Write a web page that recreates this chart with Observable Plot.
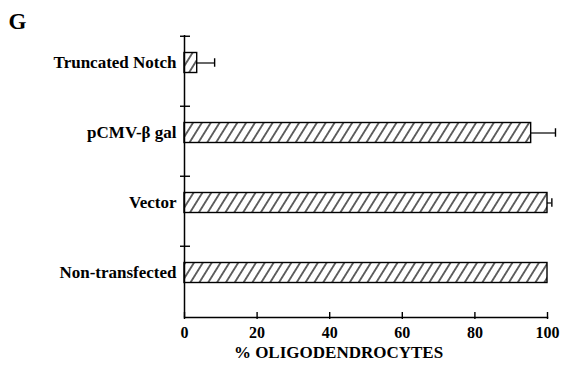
<!DOCTYPE html>
<html>
<head>
<meta charset="utf-8">
<script src="https://cdn.jsdelivr.net/npm/d3@7"></script>
<script src="https://cdn.jsdelivr.net/npm/@observablehq/plot@0.6"></script>
<style>
  html, body { margin: 0; padding: 0; background: white; }
  #chart svg, #chart svg text { font-family: "Liberation Serif", "Times New Roman", Times, serif !important; font-weight: bold; }
</style>
</head>
<body>
<div id="chart"></div>
<script>
const categories = ["Truncated Notch", "pCMV-\u03B2 gal", "Vector", "Non-transfected"];
const values = [3.5, 95.5, 100, 100];
const errors = [4.8, 6.7, 1.2, 0];
const xTicks = [0, 20, 40, 60, 80, 100];
const axisTitle = "% OLIGODENDROCYTES";
const panelLabel = "G";

const data = categories.map((c, i) => ({cat: c, value: values[i], err: errors[i]}));
const withErr = data.filter(d => d.err > 0);

const hatchDefs = () => {
  const defs = d3.create("svg:defs");
  const p = defs.append("pattern")
    .attr("id", "hatch")
    .attr("patternUnits", "userSpaceOnUse")
    .attr("width", 7.5).attr("height", 8)
    .attr("patternTransform", "rotate(32)");
  p.append("rect").attr("width", 7.5).attr("height", 8).attr("fill", "white");
  p.append("line").attr("x1", 3.75).attr("y1", -1).attr("x2", 3.75).attr("y2", 9)
    .attr("stroke", "black").attr("stroke-width", 1.2);
  return defs.node();
};

const chart = Plot.plot({
  width: 561,
  height: 367,
  marginLeft: 184,
  marginRight: 14,
  marginTop: 35,
  marginBottom: 50,
  style: {fontSize: "16px", color: "black", background: "white"},
  x: {domain: [0, 100], ticks: xTicks, tickSize: 0, tickPadding: 9, label: null},
  y: {domain: categories, padding: 0, axis: null},
  marks: [
    hatchDefs,
    Plot.barX(data, {y: "cat", x: "value", fill: "url(#hatch)", stroke: "black", strokeWidth: 1.4, insetTop: 16.5, insetBottom: 33.5}),
    Plot.ruleY(withErr, {y: "cat", x1: "value", x2: d => d.value + d.err, dy: -8.5, stroke: "black", strokeWidth: 1.2}),
    Plot.tickX(withErr, {y: "cat", x: d => d.value + d.err, insetTop: 22.25, insetBottom: 39.25, stroke: "black", strokeWidth: 1.4}),
    Plot.ruleX([0], {stroke: "black", strokeWidth: 1.5}),
    Plot.ruleY(categories, {y: d => d, dy: -35.25, insetLeft: -4, insetRight: 357, stroke: "black", strokeWidth: 1.4}),
    Plot.frame({anchor: "bottom", stroke: "black", strokeWidth: 1.5}),
    Plot.ruleX(xTicks, {x: d => d, insetTop: 277, insetBottom: -2, stroke: "black", strokeWidth: 1.4}),
    Plot.text(categories, {y: d => d, text: d => d, frameAnchor: "left", textAnchor: "end", dx: -8, dy: -8.5, fontSize: 17}),
    Plot.text([axisTitle], {text: d => d, frameAnchor: "bottom", dx: -27.5, dy: 40, fontSize: 17}),
    Plot.text([panelLabel], {text: d => d, frameAnchor: "top-left", textAnchor: "start", lineAnchor: "bottom", dx: -176, dy: -7, fontSize: 23})
  ]
});

document.getElementById("chart").appendChild(chart);
</script>
</body>
</html>
